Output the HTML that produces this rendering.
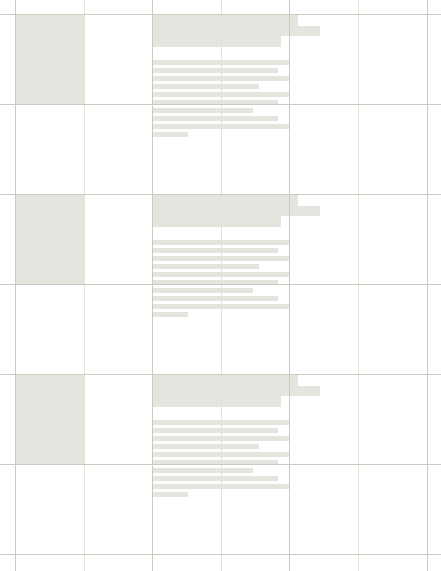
<!DOCTYPE html>
<html><head><style>
html,body{margin:0;padding:0;background:#fff;}
body{width:441px;height:571px;position:relative;overflow:hidden;font-family:"Liberation Sans",sans-serif;}
.a{position:absolute;}
.v{position:absolute;top:0;width:1px;height:571px;}
.h{position:absolute;left:0;width:441px;height:1px;background:#cbcbc0;}
.g{background:#e5e5e0;}
</style></head><body>
<div id="root"></div>
<script>
const root=document.getElementById('root');
const vx=[15,84,152,221,289,358,427];
const vdark=[true,false,true,false,true,false,true];
const hy=[14,104,194,284,374,464,554];
const blockOffsets=[0,180,360];
const lineWidths=[136,125,136,106,136,125,100,125,136,35];
function add(cls,style,name){
  const d=document.createElement('div');
  d.className=cls;
  Object.assign(d.style,style);
  
  
  root.appendChild(d);
  return d;
}
blockOffsets.forEach((o,i)=>{
  add('a g',{left:'16px',top:(15+o)+'px',width:'68px',height:'89px'},'image-placeholder');
  add('a g',{left:'153px',top:(15+o)+'px',width:'145px',height:'11px'},'title-line-1');
  add('a g',{left:'153px',top:(26+o)+'px',width:'167px',height:'10px'},'title-line-2');
  add('a g',{left:'153px',top:(36+o)+'px',width:'128px',height:'11px'},'title-line-3');
  lineWidths.forEach((w,j)=>{
    add('a g',{left:'153px',top:(60+o+j*8)+'px',width:w+'px',height:'5px'},'text-line');
  });
});
vx.forEach((x,i)=>{
  add('v',{left:x+'px',background:vdark[i]?'#cbcbc0':'#e2e2dc'},'grid-column-line');
});
hy.forEach(y=>{
  add('h',{top:y+'px'},'grid-row-line');
});
</script>
</body></html>
